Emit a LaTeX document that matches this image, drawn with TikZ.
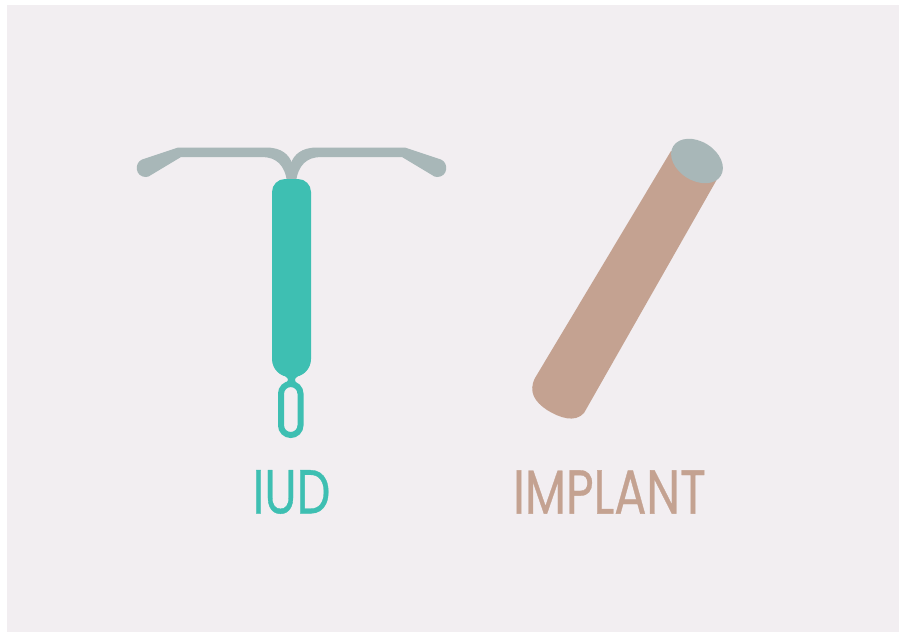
\documentclass[tikz,border=0pt]{standalone}
\usepackage{fontspec}
\newfontfamily\labelfont[FakeBold=0.6]{Poppins}
\usepackage{xcolor}
\definecolor{panelbg}{HTML}{F2EEF1}
\definecolor{iudteal}{HTML}{3EBFB2}
\definecolor{armgrey}{HTML}{A8B7B8}
\definecolor{implanttan}{HTML}{C4A291}
\tikzset{
    devicelabel/.style={inner sep=0pt,font=\labelfont\fontsize{62}{62}\selectfont,xscale=0.77},
}
\begin{document}
\begin{tikzpicture}[x=1pt,y=-1pt]
            \useasboundingbox (0,0) rectangle (899,633);
            \fill[white] (0,0) rectangle (899,633);
            \fill[panelbg] (7,5) rectangle (899,632);
            % arms
            \foreach \side/\mid in {1/0,-1/583}{
                \begin{scope}[xshift=\mid pt,xscale=\side]
                    \fill[armgrey] (292,163) .. controls (289,155) and (282,147.5) .. (266,147.5)
                        -- (178,147.5) -- (142,159.5)
                        .. controls (134,163) and (135,177) .. (146,177)
                        .. controls (148,177) and (150,176) .. (151,175)
                        -- (181,157) -- (262,157)
                        .. controls (276,157) and (285,165) .. (287,182) -- (292,182) -- cycle;
                \end{scope}
            }
            % body and loop
            \fill[iudteal] (272,280) [rounded corners=13pt] -- (272,179) -- (311,179) -- (311,280)
                [rounded corners=18pt] -- (311,377) -- (272,377) -- (272,280) -- cycle;
            \fill[iudteal] (278,372) .. controls (286,376) and (288,378) .. (288,380)
                .. controls (288,382) and (286,383) .. (283,386) -- (299,386)
                .. controls (296,383) and (295,382) .. (295,380)
                .. controls (295,378) and (297,376) .. (305,372) -- cycle;
            \draw[iudteal,line width=6pt,rounded corners=9.7pt] (281,384) rectangle (300.5,435);
            % implant
            \fill[implanttan] (671,151) -- (535,378)
                .. controls (528,392) and (535,402) .. (547,410)
                .. controls (560,418) and (575,423) .. (584,413)
                -- (720,174) -- cycle;
            \fill[armgrey] (697,161) ellipse [x radius=28,y radius=19.5,rotate=-32];
            % labels
            \node[devicelabel,text=iudteal](iud) at (291.5,492) {IUD};
            \node[devicelabel,text=implanttan](implant) at (609.5,492) {IMPLANT};
        \end{tikzpicture}
\end{document}
